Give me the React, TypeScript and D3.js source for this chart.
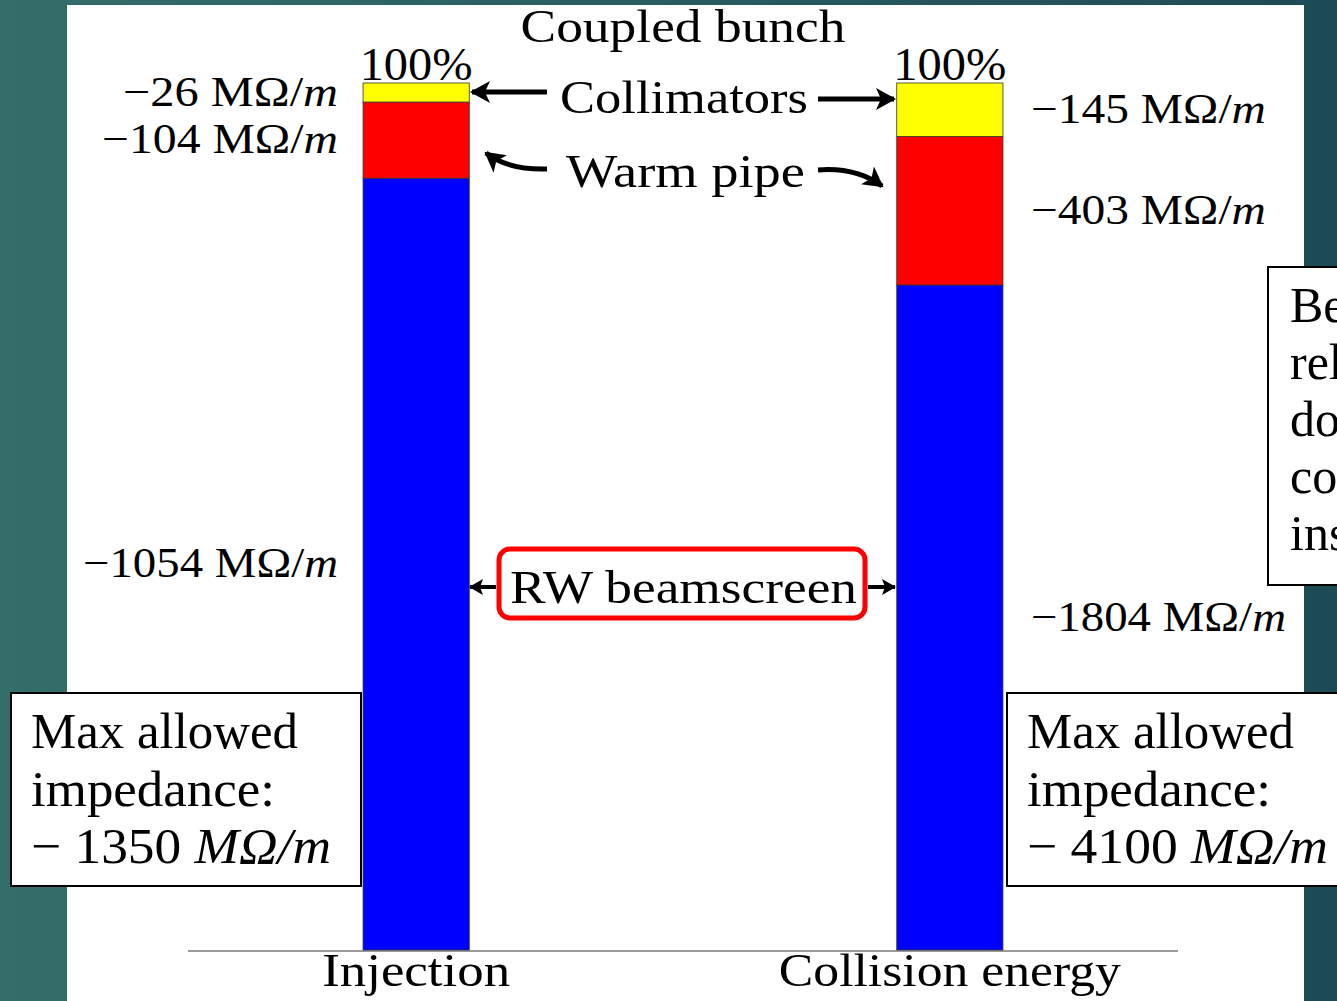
import React from "react";
import * as d3 from "d3";

const categories = ["Injection", "Collision energy"];
const collimators = [26, 145];
const warmPipe = [104, 403];
const rwBeamscreen = [1054, 1804];
const maxAllowed = [1350, 4100];
const seriesKeys = ["rw", "warm", "coll"];
const seriesColors = { rw: "#0000ff", warm: "#ff0000", coll: "#ffff00" };
const sideText = ["Be", "rel", "do", "co", "ins"];

const W = 1337;
const H = 1001;
const FONT = "'Liberation Serif', 'Times New Roman', serif";

function Mark({ x, y, text, italic, size, len, anchor = "start" }) {
  return (
    <text
      x={x}
      y={y}
      fontFamily={FONT}
      fontSize={size}
      textAnchor={anchor}
      textLength={len}
      lengthAdjust="spacingAndGlyphs"
      fill="#000"
    >
      {text}
      {italic ? <tspan fontStyle="italic">{italic}</tspan> : null}
    </text>
  );
}

export default function App() {
  const rows = categories.map((c, i) => ({
    cat: c,
    rw: rwBeamscreen[i],
    warm: warmPipe[i],
    coll: collimators[i],
  }));
  const stack = d3.stack().keys(seriesKeys).offset(d3.stackOffsetExpand)(rows);

  const x = d3
    .scaleBand()
    .domain(categories)
    .range([188, 1178])
    .paddingInner(0.801)
    .paddingOuter(0.328);
  const y = d3.scaleLinear().domain([0, 1]).range([950, 83]);

  const bw = x.bandwidth();
  const valOf = { rw: rwBeamscreen, warm: warmPipe, coll: collimators };
  const labelWidths = {
    0: { coll: 215, warm: 236, rw: 255 },
    1: { coll: 235, warm: 235, rw: 255 },
  };

  const xInj = x(categories[0]);
  const xCol = x(categories[1]);

  const curveL = d3.path();
  curveL.moveTo(547, 169);
  curveL.quadraticCurveTo(508, 170, 486, 153);
  const curveR = d3.path();
  curveR.moveTo(818, 170);
  curveR.quadraticCurveTo(856, 167, 882, 186);

  return (
    <svg
      width={W}
      height={H}
      style={{ position: "absolute", left: 0, top: 0, display: "block" }}
    >
      <defs>
        <linearGradient id="bg" x1="0" x2="1" y1="0" y2="0">
          <stop offset="0" stopColor="#336e6a" />
          <stop offset="1" stopColor="#1d4b55" />
        </linearGradient>
        <marker
          id="ah"
          viewBox="0 0 20 22"
          refX="18"
          refY="11"
          markerWidth="20"
          markerHeight="22"
          markerUnits="userSpaceOnUse"
          orient="auto"
        >
          <path d="M0,0 L20,11 L0,22 L5,11 Z" fill="#000" />
        </marker>
        <marker
          id="ahs"
          viewBox="0 0 14 16"
          refX="13"
          refY="8"
          markerWidth="14"
          markerHeight="16"
          markerUnits="userSpaceOnUse"
          orient="auto"
        >
          <path d="M0,0 L14,8 L0,16 L3,8 Z" fill="#000" />
        </marker>
      </defs>
      <rect x={0} y={0} width={W} height={H} fill="url(#bg)" />
      <rect x={67} y={5} width={1237} height={H - 5} fill="#fff" />

      {/* axis baseline */}
      <line x1={188} x2={1178} y1={y(0) + 1} y2={y(0) + 1} stroke="#9a9a9a" strokeWidth={2} />

      {/* stacked bars */}
      {stack.map((s) =>
        s.map((d, i) => (
          <rect
            key={s.key + i}
            x={x(d.data.cat)}
            y={y(d[1])}
            width={bw}
            height={y(d[0]) - y(d[1])}
            fill={seriesColors[s.key]}
            stroke="#333"
            strokeWidth={0.8}
          />
        ))
      )}

      {/* value labels */}
      {stack.map((s) =>
        s.map((d, i) => {
          const cy = (y(d[0]) + y(d[1])) / 2;
          const v = valOf[s.key][i];
          const left = i === 0;
          return (
            <Mark
              key={"l" + s.key + i}
              x={left ? xInj - 25 - labelWidths[0][s.key] : xCol + bw + 28}
              y={cy + 13}
              size={42}
              text={`\u2212${v} M\u03A9/`}
              italic="m"
              len={labelWidths[i][s.key]}
            />
          );
        })
      )}

      {/* 100% */}
      <Mark x={xInj + bw / 2} y={80} size={46} text="100%" anchor="middle" len={113} />
      <Mark x={xCol + bw / 2} y={80} size={46} text="100%" anchor="middle" len={113} />

      {/* Title-like annotation */}
      <Mark x={683} y={42} size={46} text="Coupled bunch" anchor="middle" len={325} />

      {/* Collimators */}
      <Mark x={560} y={113} size={47} text="Collimators" len={248} />
      <line x1={547} y1={92} x2={472} y2={92} stroke="#000" strokeWidth={5} markerEnd="url(#ah)" />
      <line x1={818} y1={99} x2={894} y2={99} stroke="#000" strokeWidth={5} markerEnd="url(#ah)" />

      {/* Warm pipe */}
      <Mark x={566} y={187} size={47} text="Warm pipe" len={239} />
      <path d={curveL.toString()} fill="none" stroke="#000" strokeWidth={5} markerEnd="url(#ah)" />
      <path d={curveR.toString()} fill="none" stroke="#000" strokeWidth={5} markerEnd="url(#ah)" />

      {/* RW beamscreen */}
      <rect x={499} y={549} width={366} height={69} rx={11} fill="#fff" stroke="#ff0000" strokeWidth={5} />
      <Mark x={510} y={603} size={47} text="RW beamscreen" len={347} />
      <line x1={496} y1={587} x2={470} y2={587} stroke="#000" strokeWidth={4} markerEnd="url(#ahs)" />
      <line x1={868} y1={587} x2={895} y2={587} stroke="#000" strokeWidth={4} markerEnd="url(#ahs)" />

      {/* category labels */}
      <Mark x={xInj + bw / 2} y={986} size={47} text={categories[0]} anchor="middle" len={188} />
      <Mark x={xCol + bw / 2} y={986} size={47} text={categories[1]} anchor="middle" len={342} />

      {/* Max allowed boxes */}
      {[0, 1].map((i) => {
        const bx = i === 0 ? 11 : 1007;
        const bwid = i === 0 ? 350 : 340;
        return (
          <g key={"box" + i}>
            <rect x={bx} y={693} width={bwid} height={193} fill="#fff" stroke="#000" strokeWidth={2} />
            <Mark x={bx + 20} y={748} size={50} text="Max allowed" len={267} />
            <Mark x={bx + 20} y={806} size={50} text="impedance:" len={244} />
            <Mark
              x={bx + 20}
              y={863}
              size={50}
              text={`\u2212 ${maxAllowed[i]} `}
              italic={"M\u03A9/m"}
              len={i === 0 ? 300 : 301}
            />
          </g>
        );
      })}

      {/* partially visible side box (cut by the slide edge, as in the reference) */}
      <rect x={1268} y={267} width={100} height={318} fill="#fff" stroke="#000" strokeWidth={2} />
      {sideText.map((t, i) => (
        <text key={t} x={1290} y={322 + i * 57} fontFamily={FONT} fontSize={50} fill="#000">
          {t}
        </text>
      ))}
    </svg>
  );
}
